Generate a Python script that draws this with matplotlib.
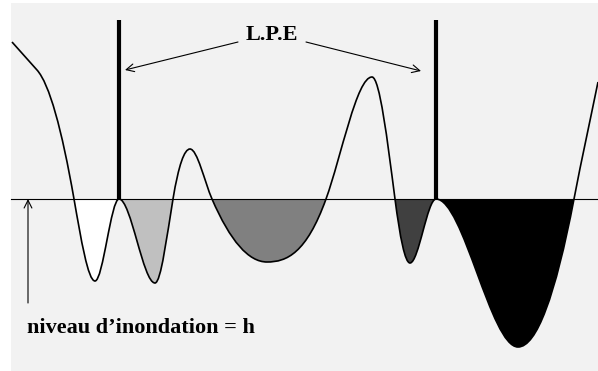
import numpy as np
import matplotlib.pyplot as plt
from matplotlib.path import Path
from matplotlib.patches import PathPatch, Rectangle

# relief profile: crests, bottoms and crossings of the flood level h (= 0)
relief_x = [12, 37, 74, 95, 119, 155, 173, 190, 212, 267, 326, 372, 395, 410, 436, 518, 574, 598]
relief_z = [157, 129, 0, -82, 0, -84, 0, 50, 0, -63, 0, 122, 0, -64, 0, -148, 0, 117]

level_h = 0
# flooded basins: (x where the water starts, x where it ends), grey level
basin_from = [74, 119, 212, 395, 436]
basin_to = [119, 173, 326, 436, 574]
basin_colors = ['white', '#c0c0c0', '#808080', '#404040', 'black']

# watershed lines (L.P.E)
dam_x = [119, 436]
dam_top = 179

xs = np.array(relief_x, float)
zs = np.array(relief_z, float)
n = len(xs)

# tangents: flat at crests/bottoms, sine-like through the crossings
d = np.diff(zs) / np.diff(xs)
m = np.zeros(n)
m[0], m[-1] = d[0], d[-1]
for k in range(1, n - 1):
    if (zs[k] - zs[k - 1]) * (zs[k + 1] - zs[k]) > 0:
        m[k] = np.pi / 2 * (zs[k + 1] - zs[k - 1]) / (xs[k + 1] - xs[k - 1])
m[1] = d[0]  # the profile starts with a straight slope


def bezier(i0, i1):
    verts = [(xs[i0], zs[i0])]
    codes = [Path.MOVETO]
    for i in range(i0, i1):
        dx = xs[i + 1] - xs[i]
        verts += [(xs[i] + dx / 3, zs[i] + m[i] * dx / 3),
                  (xs[i + 1] - dx / 3, zs[i + 1] - m[i + 1] * dx / 3),
                  (xs[i + 1], zs[i + 1])]
        codes += [Path.CURVE4] * 3
    return verts, codes


fig = plt.figure(figsize=(5.98, 3.71), dpi=100)
ax = fig.add_axes([0, 0, 1, 1])
ax.set_xlim(0, 598)
ax.set_ylim(-172, 199)
ax.axis('off')

ax.add_patch(Rectangle((11, -172), 600, 368, facecolor='#f2f2f2', edgecolor='none', zorder=0))

for a, b, c in zip(basin_from, basin_to, basin_colors):
    i0 = relief_x.index(a)
    i1 = relief_x.index(b)
    v, cd = bezier(i0, i1)
    v.append((xs[i0], zs[i0]))
    cd.append(Path.CLOSEPOLY)
    ax.add_patch(PathPatch(Path(v, cd), facecolor=c, edgecolor='none', zorder=1))

ax.plot([11, 598], [level_h, level_h], color='black', lw=0.8, zorder=2)

v, cd = bezier(0, n - 1)
ax.add_patch(PathPatch(Path(v, cd), facecolor='none', edgecolor='black', lw=1.2, zorder=3))

for x in dam_x:
    ax.plot([x, x], [level_h, dam_top], color='black', lw=3, solid_capstyle='butt', zorder=4)

arrow = dict(arrowstyle='->', lw=0.8, mutation_scale=14, shrinkA=0, shrinkB=0)
ax.annotate('', xy=(125, 129), xytext=(238, 157), arrowprops=arrow)
ax.annotate('', xy=(421, 128), xytext=(306, 157), arrowprops=arrow)
ax.annotate('', xy=(28, level_h), xytext=(28, -104), arrowprops=arrow)

ax.text(272, 164, 'L.P.E', ha='center', va='center', fontsize=16,
        family='Liberation Serif', weight='bold')
ax.text(27, -134, 'niveau d\u2019inondation = h', ha='left', va='baseline', fontsize=16,
        family='Liberation Serif', weight='bold')

fig.savefig('out.png', dpi=100)
